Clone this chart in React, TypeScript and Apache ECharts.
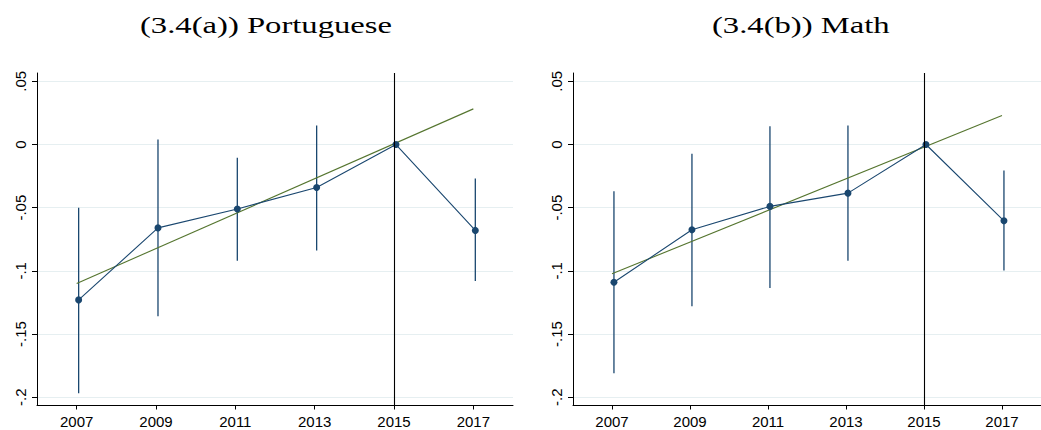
import React, { useEffect, useRef } from "react";
import * as echarts from "echarts";

// ---- data ----
const years = [2007, 2009, 2011, 2013, 2015, 2017];
const markerShift = 0.05;
const portEst = [-0.123, -0.066, -0.051, -0.034, 0, -0.068];
const portLo = [-0.197, -0.136, -0.092, -0.084, null, -0.108];
const portHi = [-0.05, 0.004, -0.0105, 0.015, null, -0.027];
const mathEst = [-0.109, -0.0675, -0.049, -0.0385, 0, -0.0604];
const mathLo = [-0.181, -0.128, -0.1135, -0.092, null, -0.0997];
const mathHi = [-0.037, -0.0074, 0.0145, 0.015, null, -0.0206];
const fitYears = [2007, 2017];
const portFit = [-0.11, 0.0282];
const mathFit = [-0.1023, 0.0229];
const xTicks = [2007, 2009, 2011, 2013, 2015, 2017];
const yTicks = [-0.2, -0.15, -0.1, -0.05, 0, 0.05];
const refYear = 2015;
const titles = ["(3.4(a)) Portuguese", "(3.4(b)) Math"];

const NAVY = "#1a476f";
const GREEN = "#55752f";
const LABEL_FONT = '"Liberation Sans Narrow", "Liberation Sans", Arial, sans-serif';

const fmtY = (v: number) => {
  const r = Math.round(v * 100) / 100;
  if (r === 0) return "0";
  return String(r).replace("0.", ".");
};

export default function App() {
  const ref = useRef<HTMLDivElement>(null);
  useEffect(() => {
    document.body.style.margin = "0";
    const chart = echarts.init(ref.current!, null, { renderer: "svg" });

    const grids = [
      { left: 37, top: 73, width: 476, height: 332.5 },
      { left: 573, top: 73, width: 478, height: 332.5 },
    ];

    const xAxes = grids.map((_, i) => ({
      type: "value",
      gridIndex: i,
      min: 2006,
      max: 2018,
      axisLine: { show: true, onZero: false, lineStyle: { color: "#000", width: 1 } },
      axisTick: { show: true, length: 4, customValues: xTicks, lineStyle: { color: "#000" } },
      axisLabel: {
        customValues: xTicks,
        color: "#000",
        fontSize: 15,
        fontFamily: LABEL_FONT,
        margin: 8,
        formatter: (v: number) => String(v),
      },
      splitLine: { show: false },
    }));

    const yAxes = grids.map((_, i) => ({
      type: "value",
      gridIndex: i,
      min: -0.2066,
      max: 0.0566,
      axisLine: { show: true, onZero: false, lineStyle: { color: "#000", width: 1 } },
      axisTick: { show: true, length: 5, customValues: yTicks, lineStyle: { color: "#000" } },
      axisLabel: {
        customValues: yTicks,
        rotate: 90,
        color: "#000",
        fontSize: 15,
        fontFamily: LABEL_FONT,
        margin: 9,
        formatter: fmtY,
      },
      splitLine: { show: true, lineStyle: { color: "#e6eff1", width: 1 } },
    }));

    const panels = [
      { est: portEst, lo: portLo, hi: portHi, fit: portFit },
      { est: mathEst, lo: mathLo, hi: mathHi, fit: mathFit },
    ];

    const series: any[] = [];
    panels.forEach((p, i) => {
      const ciData = years
        .map((y, k) => [y + markerShift, p.lo[k], p.hi[k]])
        .filter((d) => d[1] !== null && d[2] !== null);
      series.push({
        type: "custom",
        xAxisIndex: i,
        yAxisIndex: i,
        data: ciData,
        encode: { x: 0, y: [1, 2] },
        renderItem: (params: any, api: any) => {
          const x = api.value(0);
          const a = api.coord([x, api.value(1)]);
          const b = api.coord([x, api.value(2)]);
          return {
            type: "line",
            shape: { x1: a[0], y1: a[1], x2: b[0], y2: b[1] },
            style: { stroke: NAVY, lineWidth: 1.3 },
          };
        },
        z: 2,
      });
      series.push({
        type: "line",
        xAxisIndex: i,
        yAxisIndex: i,
        data: fitYears.map((y, k) => [y, p.fit[k]]),
        showSymbol: false,
        symbol: "none",
        lineStyle: { color: GREEN, width: 1.1 },
        z: 3,
      });
      series.push({
        type: "line",
        xAxisIndex: i,
        yAxisIndex: i,
        data: years.map((y, k) => [y + markerShift, p.est[k]]),
        symbol: "circle",
        symbolSize: 7,
        itemStyle: { color: NAVY },
        lineStyle: { color: NAVY, width: 1.1 },
        z: 4,
        markLine: {
          silent: true,
          symbol: "none",
          label: { show: false },
          lineStyle: { color: "#000", width: 1.1, type: "solid" },
          data: [{ xAxis: refYear }],
        },
      });
    });

    chart.setOption({
      animation: false,
      backgroundColor: "#fff",
      grid: grids,
      xAxis: xAxes,
      yAxis: yAxes,
      series,
      graphic: [
        {
          type: "text",
          x: 140,
          y: 25,
          scaleX: 1.42,
          style: {
            text: titles[0],
            fontSize: 23,
            fontFamily: '"Liberation Serif", "Times New Roman", serif',
            fill: "#000",
            align: "left",
            verticalAlign: "middle",
          },
        },
        {
          type: "text",
          x: 712,
          y: 25,
          scaleX: 1.42,
          style: {
            text: titles[1],
            fontSize: 23,
            fontFamily: '"Liberation Serif", "Times New Roman", serif',
            fill: "#000",
            align: "left",
            verticalAlign: "middle",
          },
        },
      ],
    });
    return () => chart.dispose();
  }, []);
  return <div ref={ref} style={{ width: 1041, height: 430 }} />;
}
